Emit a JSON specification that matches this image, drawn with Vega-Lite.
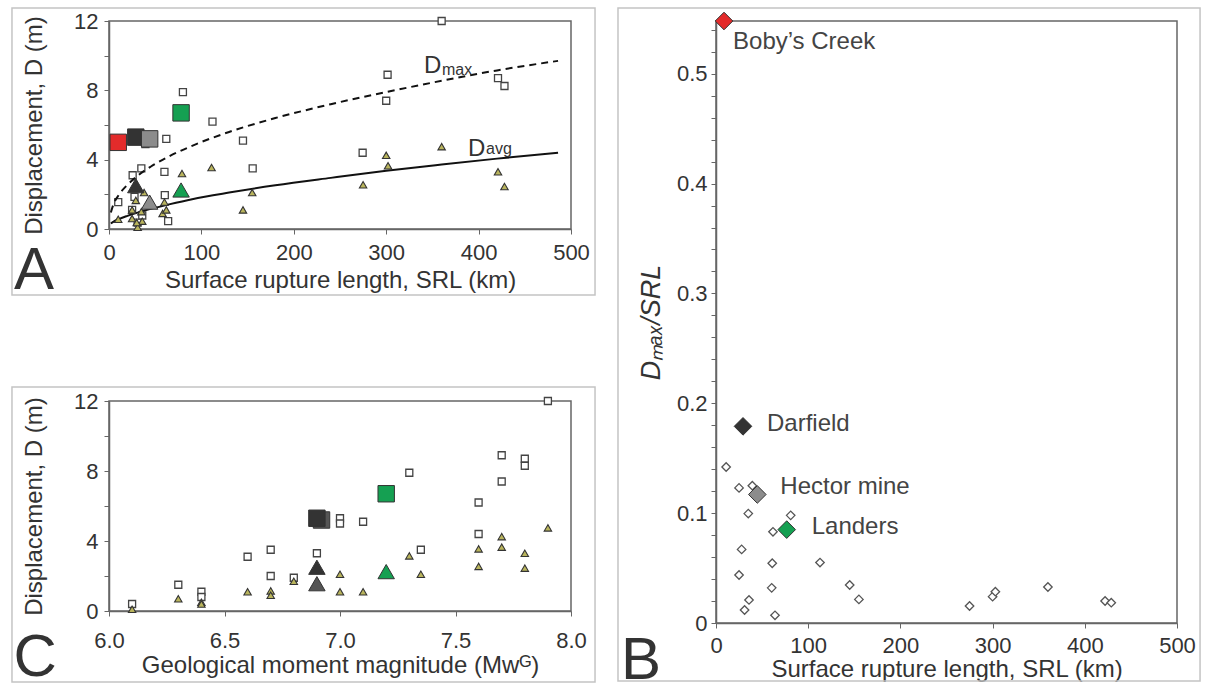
{
  "$schema": "https://vega.github.io/schema/vega-lite/v6.json",
  "background": "white",
  "padding": {"left": 10, "top": 6, "right": 2, "bottom": 0},
  "autosize": {"type": "pad"},
  "columns": 2,
  "align": "none",
  "spacing": {"row": 0, "column": 19},
  "resolve": {"scale": {"x": "independent", "y": "independent", "color": "independent"}},
  "datasets": {
    "srl": [
      {"L": 10, "D": 1.55, "k": "max"}, {"L": 25.6, "D": 3.1, "k": "max"}, {"L": 25, "D": 1.1, "k": "max"},
      {"L": 27.6, "D": 1.85, "k": "max"}, {"L": 31, "D": 0.37, "k": "max"}, {"L": 35, "D": 3.5, "k": "max"},
      {"L": 36, "D": 0.78, "k": "max"}, {"L": 39.4, "D": 4.9, "k": "max"}, {"L": 60, "D": 3.3, "k": "max"},
      {"L": 60.4, "D": 1.95, "k": "max"}, {"L": 62, "D": 5.2, "k": "max"}, {"L": 64, "D": 0.45, "k": "max"},
      {"L": 80, "D": 7.9, "k": "max"}, {"L": 112, "D": 6.2, "k": "max"}, {"L": 145, "D": 5.1, "k": "max"},
      {"L": 155.5, "D": 3.5, "k": "max"}, {"L": 274.5, "D": 4.4, "k": "max"}, {"L": 300, "D": 7.4, "k": "max"},
      {"L": 301.5, "D": 8.9, "k": "max"}, {"L": 360, "D": 12, "k": "max"}, {"L": 421, "D": 8.7, "k": "max"},
      {"L": 428, "D": 8.25, "k": "max"},
      {"L": 10, "D": 0.56, "k": "avg"}, {"L": 25, "D": 1.1, "k": "avg"}, {"L": 25, "D": 0.6, "k": "avg"},
      {"L": 29, "D": 1.65, "k": "avg"}, {"L": 31, "D": 0.1, "k": "avg"}, {"L": 36, "D": 0.45, "k": "avg"},
      {"L": 30, "D": 0.37, "k": "avg"}, {"L": 38, "D": 2.1, "k": "avg"}, {"L": 35, "D": 1.0, "k": "avg"},
      {"L": 58, "D": 0.9, "k": "avg"}, {"L": 60, "D": 1.55, "k": "avg"}, {"L": 62, "D": 1.1, "k": "avg"},
      {"L": 79, "D": 3.2, "k": "avg"}, {"L": 111, "D": 3.55, "k": "avg"}, {"L": 145, "D": 1.1, "k": "avg"},
      {"L": 155, "D": 2.1, "k": "avg"}, {"L": 275, "D": 2.55, "k": "avg"}, {"L": 300, "D": 4.25, "k": "avg"},
      {"L": 302, "D": 3.65, "k": "avg"}, {"L": 360, "D": 4.75, "k": "avg"}, {"L": 421, "D": 3.3, "k": "avg"},
      {"L": 428, "D": 2.45, "k": "avg"},
      {"L": 10, "D": 5.0, "k": "max", "ev": "Boby’s Creek"},
      {"L": 29, "D": 5.3, "k": "max", "ev": "Darfield"},
      {"L": 44, "D": 5.2, "k": "max", "ev": "Hector mine"},
      {"L": 78, "D": 6.7, "k": "max", "ev": "Landers"},
      {"L": 29, "D": 2.5, "k": "avg", "ev": "Darfield"},
      {"L": 44, "D": 1.55, "k": "avg", "ev": "Hector mine"},
      {"L": 78, "D": 2.25, "k": "avg", "ev": "Landers"}
    ],
    "curves": [
      {"L": 2, "D": 0.95, "k": "max"}, {"L": 5, "D": 1.45, "k": "max"}, {"L": 10, "D": 1.92, "k": "max"},
      {"L": 20, "D": 2.55, "k": "max"}, {"L": 30, "D": 3.03, "k": "max"}, {"L": 45, "D": 3.59, "k": "max"},
      {"L": 65, "D": 4.19, "k": "max"}, {"L": 90, "D": 4.8, "k": "max"}, {"L": 130, "D": 5.6, "k": "max"},
      {"L": 180, "D": 6.4, "k": "max"}, {"L": 240, "D": 7.2, "k": "max"}, {"L": 300, "D": 7.9, "k": "max"},
      {"L": 360, "D": 8.55, "k": "max"}, {"L": 420, "D": 9.15, "k": "max"}, {"L": 486, "D": 9.7, "k": "max"},
      {"L": 2, "D": 0.32, "k": "avg"}, {"L": 5, "D": 0.43, "k": "avg"}, {"L": 10, "D": 0.56, "k": "avg"},
      {"L": 20, "D": 0.76, "k": "avg"}, {"L": 30, "D": 0.93, "k": "avg"}, {"L": 45, "D": 1.16, "k": "avg"},
      {"L": 65, "D": 1.42, "k": "avg"}, {"L": 90, "D": 1.72, "k": "avg"}, {"L": 130, "D": 2.1, "k": "avg"},
      {"L": 180, "D": 2.52, "k": "avg"}, {"L": 240, "D": 2.95, "k": "avg"}, {"L": 300, "D": 3.36, "k": "avg"},
      {"L": 360, "D": 3.72, "k": "avg"}, {"L": 420, "D": 4.06, "k": "avg"}, {"L": 486, "D": 4.4, "k": "avg"}
    ],
    "mw": [
      {"M": 6.1, "D": 0.4, "k": "max"}, {"M": 6.3, "D": 1.5, "k": "max"}, {"M": 6.4, "D": 1.1, "k": "max"},
      {"M": 6.4, "D": 0.8, "k": "max"}, {"M": 6.6, "D": 3.1, "k": "max"}, {"M": 6.7, "D": 3.5, "k": "max"},
      {"M": 6.7, "D": 2.0, "k": "max"}, {"M": 6.8, "D": 1.9, "k": "max"}, {"M": 6.9, "D": 3.3, "k": "max"},
      {"M": 7.0, "D": 5.3, "k": "max"}, {"M": 7.0, "D": 5.0, "k": "max"}, {"M": 7.1, "D": 5.1, "k": "max"},
      {"M": 7.3, "D": 7.9, "k": "max"}, {"M": 7.35, "D": 3.5, "k": "max"}, {"M": 7.6, "D": 6.2, "k": "max"},
      {"M": 7.6, "D": 4.4, "k": "max"}, {"M": 7.7, "D": 8.9, "k": "max"}, {"M": 7.7, "D": 7.4, "k": "max"},
      {"M": 7.8, "D": 8.7, "k": "max"}, {"M": 7.8, "D": 8.3, "k": "max"}, {"M": 7.9, "D": 12, "k": "max"},
      {"M": 6.1, "D": 0.1, "k": "avg"}, {"M": 6.3, "D": 0.7, "k": "avg"}, {"M": 6.4, "D": 0.5, "k": "avg"},
      {"M": 6.4, "D": 0.4, "k": "avg"}, {"M": 6.6, "D": 1.1, "k": "avg"}, {"M": 6.7, "D": 1.15, "k": "avg"},
      {"M": 6.7, "D": 0.9, "k": "avg"}, {"M": 6.8, "D": 1.7, "k": "avg"}, {"M": 7.0, "D": 2.1, "k": "avg"},
      {"M": 7.0, "D": 1.1, "k": "avg"}, {"M": 7.1, "D": 1.1, "k": "avg"}, {"M": 7.3, "D": 3.15, "k": "avg"},
      {"M": 7.35, "D": 2.1, "k": "avg"}, {"M": 7.6, "D": 3.55, "k": "avg"}, {"M": 7.6, "D": 2.55, "k": "avg"},
      {"M": 7.7, "D": 4.25, "k": "avg"}, {"M": 7.7, "D": 3.65, "k": "avg"}, {"M": 7.8, "D": 3.3, "k": "avg"},
      {"M": 7.8, "D": 2.45, "k": "avg"}, {"M": 7.9, "D": 4.75, "k": "avg"},
      {"M": 6.92, "D": 5.2, "k": "max", "ev": "Hector mine"},
      {"M": 6.9, "D": 5.3, "k": "max", "ev": "Darfield"},
      {"M": 7.2, "D": 6.7, "k": "max", "ev": "Landers"},
      {"M": 6.9, "D": 1.56, "k": "avg", "ev": "Hector mine"},
      {"M": 6.9, "D": 2.5, "k": "avg", "ev": "Darfield"},
      {"M": 7.2, "D": 2.25, "k": "avg", "ev": "Landers"}
    ],
    "ratio": [
      {"L": 11, "R": 0.142}, {"L": 25, "R": 0.123}, {"L": 39.4, "R": 0.125}, {"L": 35, "R": 0.0996},
      {"L": 27.8, "R": 0.067}, {"L": 25, "R": 0.0437}, {"L": 35.8, "R": 0.021}, {"L": 31, "R": 0.0118},
      {"L": 61, "R": 0.0544}, {"L": 60.4, "R": 0.032}, {"L": 64, "R": 0.007}, {"L": 61.8, "R": 0.083},
      {"L": 81, "R": 0.098}, {"L": 112.8, "R": 0.055}, {"L": 145, "R": 0.0346}, {"L": 155, "R": 0.0215},
      {"L": 275, "R": 0.0155}, {"L": 300, "R": 0.024}, {"L": 303, "R": 0.0285}, {"L": 360, "R": 0.0328},
      {"L": 422, "R": 0.02}, {"L": 428.7, "R": 0.0185},
      {"L": 8.7, "R": 0.548, "ev": "Boby’s Creek"},
      {"L": 29.3, "R": 0.179, "ev": "Darfield"},
      {"L": 44.8, "R": 0.117, "ev": "Hector mine"},
      {"L": 76.7, "R": 0.085, "ev": "Landers"}
    ],
    "one": [{"n": 1}]
  },
  "concat": [
    {
      "vconcat": [
        {
          "width": 462,
          "height": 208,
          "layer": [
            {"data": {"name": "srl"}, "transform": [{"filter": "datum.k === 'max' && !datum.ev"}],
             "mark": {"type": "point", "shape": "square", "size": 49, "filled": true, "fill": "white", "stroke": "#444", "strokeWidth": 1.3, "opacity": 1},
             "encoding": {
               "x": {"field": "L", "type": "quantitative", "scale": {"domain": [0, 500], "nice": false, "zero": false},
                     "axis": {"title": "Surface rupture length, SRL (km)", "values": [0, 100, 200, 300, 400, 500], "tickCount": 100, "format": "d", "labelPadding": 8, "titlePadding": 5}},
               "y": {"field": "D", "type": "quantitative", "scale": {"domain": [0, 12], "nice": false},
                     "axis": {"title": "Displacement, D (m)", "values": [0, 2, 4, 6, 8, 10, 12], "tickCount": 100, "format": "d", "labelExpr": "datum.value % 4 === 0 ? datum.label : ''", "labelPadding": 6, "titlePadding": 27}}
             }},
            {"data": {"name": "one"}, "mark": {"type": "rect", "filled": false, "fill": null, "stroke": "#c4c4c4", "strokeWidth": 1.5},
             "encoding": {"x": {"datum": -105, "type": "quantitative"}, "x2": {"datum": 526}, "y": {"datum": 12.75, "type": "quantitative"}, "y2": {"datum": -3.81}}},
            {"data": {"name": "one"}, "mark": {"type": "text", "text": "A", "fontSize": 60, "color": "#333", "align": "center", "baseline": "alphabetic"},
             "encoding": {"x": {"datum": -81.2, "type": "quantitative"}, "y": {"datum": -3.46, "type": "quantitative"}}},
            {"data": {"name": "curves"}, "transform": [{"filter": "datum.k === 'max'"}],
             "mark": {"type": "line", "stroke": "#111", "strokeWidth": 2, "strokeDash": [7, 5], "interpolate": "monotone"},
             "encoding": {"x": {"field": "L", "type": "quantitative"}, "y": {"field": "D", "type": "quantitative"}}},
            {"data": {"name": "curves"}, "transform": [{"filter": "datum.k === 'avg'"}],
             "mark": {"type": "line", "stroke": "#111", "strokeWidth": 2, "interpolate": "monotone"},
             "encoding": {"x": {"field": "L", "type": "quantitative"}, "y": {"field": "D", "type": "quantitative"}}},
            {"data": {"name": "srl"}, "transform": [{"filter": "datum.k === 'avg' && !datum.ev"}],
             "mark": {"type": "point", "shape": "triangle-up", "size": 55, "filled": true, "fill": "#b9b45c", "stroke": "#333", "strokeWidth": 1.1, "opacity": 1},
             "encoding": {"x": {"field": "L", "type": "quantitative"}, "y": {"field": "D", "type": "quantitative"}}},
            {"data": {"name": "srl"}, "transform": [{"filter": "datum.k === 'max' && datum.ev"}],
             "mark": {"type": "point", "shape": "square", "size": 270, "filled": true, "stroke": "#333", "strokeWidth": 1, "opacity": 1},
             "encoding": {"x": {"field": "L", "type": "quantitative"}, "y": {"field": "D", "type": "quantitative"},
               "color": {"field": "ev", "type": "nominal", "legend": null,
               "scale": {"domain": ["Boby’s Creek", "Darfield", "Hector mine", "Landers"], "range": ["#e32b2b", "#333333", "#8c8c8c", "#15a052"]}}}},
            {"data": {"name": "srl"}, "transform": [{"filter": "datum.k === 'avg' && datum.ev"}],
             "mark": {"type": "point", "shape": "triangle-up", "size": 270, "filled": true, "stroke": "#333", "strokeWidth": 1, "opacity": 1},
             "encoding": {"x": {"field": "L", "type": "quantitative"}, "y": {"field": "D", "type": "quantitative"},
               "color": {"field": "ev", "type": "nominal", "legend": null,
               "scale": {"domain": ["Boby’s Creek", "Darfield", "Hector mine", "Landers"], "range": ["#e32b2b", "#333333", "#8c8c8c", "#15a052"]}}}},
            {"data": {"name": "one"}, "mark": {"type": "text", "text": "D", "fontSize": 24, "color": "#333", "align": "left", "baseline": "alphabetic"},
             "encoding": {"x": {"datum": 341, "type": "quantitative"}, "y": {"datum": 9.0, "type": "quantitative"}}},
            {"data": {"name": "one"}, "mark": {"type": "text", "text": "max", "fontSize": 16, "color": "#333", "align": "left", "baseline": "alphabetic"},
             "encoding": {"x": {"datum": 360.4, "type": "quantitative"}, "y": {"datum": 8.88, "type": "quantitative"}}},
            {"data": {"name": "one"}, "mark": {"type": "text", "text": "D", "fontSize": 24, "color": "#333", "align": "left", "baseline": "alphabetic"},
             "encoding": {"x": {"datum": 388.5, "type": "quantitative"}, "y": {"datum": 4.2, "type": "quantitative"}}},
            {"data": {"name": "one"}, "mark": {"type": "text", "text": "avg", "fontSize": 16, "color": "#333", "align": "left", "baseline": "alphabetic"},
             "encoding": {"x": {"datum": 408, "type": "quantitative"}, "y": {"datum": 4.33, "type": "quantitative"}}}
          ]
        },
        {
          "width": 462,
          "height": 210,
          "layer": [
            {"data": {"name": "mw"}, "transform": [{"filter": "datum.k === 'max' && !datum.ev"}],
             "mark": {"type": "point", "shape": "square", "size": 49, "filled": true, "fill": "white", "stroke": "#444", "strokeWidth": 1.3, "opacity": 1},
             "encoding": {
               "x": {"field": "M", "type": "quantitative", "scale": {"domain": [6, 8], "nice": false, "zero": false},
                     "axis": {"title": "Geological moment magnitude (Mwᴳ)", "values": [6, 6.5, 7, 7.5, 8], "tickCount": 100, "format": ".1f", "labelPadding": 14, "titlePadding": 2}},
               "y": {"field": "D", "type": "quantitative", "scale": {"domain": [0, 12], "nice": false},
                     "axis": {"title": "Displacement, D (m)", "values": [0, 2, 4, 6, 8, 10, 12], "tickCount": 100, "format": "d", "labelExpr": "datum.value % 4 === 0 ? datum.label : ''", "labelPadding": 6, "titlePadding": 27}}
             }},
            {"data": {"name": "one"}, "mark": {"type": "rect", "filled": false, "fill": null, "stroke": "#c4c4c4", "strokeWidth": 1.5},
             "encoding": {"x": {"datum": 5.58, "type": "quantitative"}, "x2": {"datum": 8.104}, "y": {"datum": 12.8, "type": "quantitative"}, "y2": {"datum": -4.06}}},
            {"data": {"name": "one"}, "mark": {"type": "text", "text": "C", "fontSize": 60, "color": "#333", "align": "center", "baseline": "alphabetic"},
             "encoding": {"x": {"datum": 5.68, "type": "quantitative"}, "y": {"datum": -3.71, "type": "quantitative"}}},
            {"data": {"name": "mw"}, "transform": [{"filter": "datum.k === 'avg' && !datum.ev"}],
             "mark": {"type": "point", "shape": "triangle-up", "size": 55, "filled": true, "fill": "#b9b45c", "stroke": "#333", "strokeWidth": 1.1, "opacity": 1},
             "encoding": {"x": {"field": "M", "type": "quantitative"}, "y": {"field": "D", "type": "quantitative"}}},
            {"data": {"name": "mw"}, "transform": [{"filter": "datum.k === 'max' && datum.ev"}],
             "mark": {"type": "point", "shape": "square", "size": 270, "filled": true, "stroke": "#333", "strokeWidth": 1, "opacity": 1},
             "encoding": {"x": {"field": "M", "type": "quantitative"}, "y": {"field": "D", "type": "quantitative"},
               "color": {"field": "ev", "type": "nominal", "legend": null,
               "scale": {"domain": ["Boby’s Creek", "Darfield", "Hector mine", "Landers"], "range": ["#e32b2b", "#333333", "#555555", "#15a052"]}}}},
            {"data": {"name": "mw"}, "transform": [{"filter": "datum.k === 'avg' && datum.ev"}],
             "mark": {"type": "point", "shape": "triangle-up", "size": 270, "filled": true, "stroke": "#333", "strokeWidth": 1, "opacity": 1},
             "encoding": {"x": {"field": "M", "type": "quantitative"}, "y": {"field": "D", "type": "quantitative"},
               "color": {"field": "ev", "type": "nominal", "legend": null,
               "scale": {"domain": ["Boby’s Creek", "Darfield", "Hector mine", "Landers"], "range": ["#e32b2b", "#333333", "#8c8c8c", "#15a052"]}}}}
          ]
        }
      ],
      "spacing": 83,
      "resolve": {"scale": {"x": "independent", "y": "independent", "color": "independent"}}
    },
    {
      "width": 461,
      "height": 602,
      "layer": [
        {"data": {"name": "ratio"}, "transform": [{"filter": "!datum.ev"}],
         "mark": {"type": "point", "shape": "diamond", "size": 72, "filled": true, "fill": "white", "stroke": "#555", "strokeWidth": 1.3, "opacity": 1},
         "encoding": {
           "x": {"field": "L", "type": "quantitative", "scale": {"domain": [0, 500], "nice": false, "zero": false},
                 "axis": {"title": "Surface rupture length, SRL (km)", "values": [0, 100, 200, 300, 400, 500], "tickCount": 100, "format": "d", "labelPadding": 7, "titlePadding": 1}},
           "y": {"field": "R", "type": "quantitative", "scale": {"domain": [0, 0.548], "nice": false},
                 "axis": {"title": "Dₘₐₓ/SRL", "titleFontStyle": "italic", "titleFontSize": 27, "tickCount": 100,
                          "values": [0, 0.02, 0.04, 0.06, 0.08, 0.1, 0.12, 0.14, 0.16, 0.18, 0.2, 0.22, 0.24, 0.26, 0.28, 0.3, 0.32, 0.34, 0.36, 0.38, 0.4, 0.42, 0.44, 0.46, 0.48, 0.5, 0.52, 0.54],
                          "labelExpr": "datum.value === 0 ? '0' : (indexof([0.1, 0.2, 0.3, 0.4, 0.5], datum.value) >= 0 ? format(datum.value, '.1f') : '')",
                          "labelPadding": 4, "titlePadding": 11}}
         }},
        {"data": {"name": "one"}, "mark": {"type": "rect", "filled": false, "fill": null, "stroke": "#c4c4c4", "strokeWidth": 1.5},
         "encoding": {"x": {"datum": -106.3, "type": "quantitative"}, "x2": {"datum": 525}, "y": {"datum": 0.5598, "type": "quantitative"}, "y2": {"datum": -0.0528}}},
        {"data": {"name": "one"}, "mark": {"type": "text", "text": "B", "fontSize": 60, "color": "#333", "align": "center", "baseline": "alphabetic"},
         "encoding": {"x": {"datum": -81.3, "type": "quantitative"}, "y": {"datum": -0.051, "type": "quantitative"}}},
        {"data": {"name": "ratio"}, "transform": [{"filter": "datum.ev"}],
         "mark": {"type": "point", "shape": "diamond", "size": 310, "filled": true, "stroke": "#333", "strokeWidth": 1, "opacity": 1},
         "encoding": {"x": {"field": "L", "type": "quantitative"}, "y": {"field": "R", "type": "quantitative"},
           "color": {"field": "ev", "type": "nominal", "legend": null,
           "scale": {"domain": ["Boby’s Creek", "Darfield", "Hector mine", "Landers"], "range": ["#e32b2b", "#333333", "#8c8c8c", "#15a052"]}}}},
        {"data": {"name": "ratio"}, "transform": [{"filter": "datum.ev === 'Boby’s Creek'"}],
         "mark": {"type": "text", "fontSize": 24, "color": "#444", "align": "left", "baseline": "middle", "dx": 9, "dy": 21},
         "encoding": {"x": {"field": "L", "type": "quantitative"}, "y": {"field": "R", "type": "quantitative"}, "text": {"field": "ev"}}},
        {"data": {"name": "ratio"}, "transform": [{"filter": "datum.ev === 'Darfield'"}],
         "mark": {"type": "text", "fontSize": 24, "color": "#444", "align": "left", "baseline": "middle", "dx": 24, "dy": -2},
         "encoding": {"x": {"field": "L", "type": "quantitative"}, "y": {"field": "R", "type": "quantitative"}, "text": {"field": "ev"}}},
        {"data": {"name": "ratio"}, "transform": [{"filter": "datum.ev === 'Hector mine'"}],
         "mark": {"type": "text", "fontSize": 24, "color": "#444", "align": "left", "baseline": "middle", "dx": 23, "dy": -7},
         "encoding": {"x": {"field": "L", "type": "quantitative"}, "y": {"field": "R", "type": "quantitative"}, "text": {"field": "ev"}}},
        {"data": {"name": "ratio"}, "transform": [{"filter": "datum.ev === 'Landers'"}],
         "mark": {"type": "text", "fontSize": 24, "color": "#444", "align": "left", "baseline": "middle", "dx": 25, "dy": -3},
         "encoding": {"x": {"field": "L", "type": "quantitative"}, "y": {"field": "R", "type": "quantitative"}, "text": {"field": "ev"}}}
      ]
    }
  ],
  "config": {
    "font": "Liberation Sans",
    "view": {"stroke": "#666", "strokeWidth": 1.5},
    "point": {"opacity": 1},
    "axis": {
      "grid": false, "domainColor": "#666", "domainWidth": 1.5, "tickColor": "#666", "tickSize": 5, "tickWidth": 1,
      "labelFont": "Liberation Sans", "labelFontSize": 22, "labelColor": "#333", "labelFlush": false, "labelOverlap": false, "labelBound": false,
      "titleFont": "Liberation Sans", "titleFontSize": 24, "titleFontWeight": "normal", "titleColor": "#333"
    }
  }
}
